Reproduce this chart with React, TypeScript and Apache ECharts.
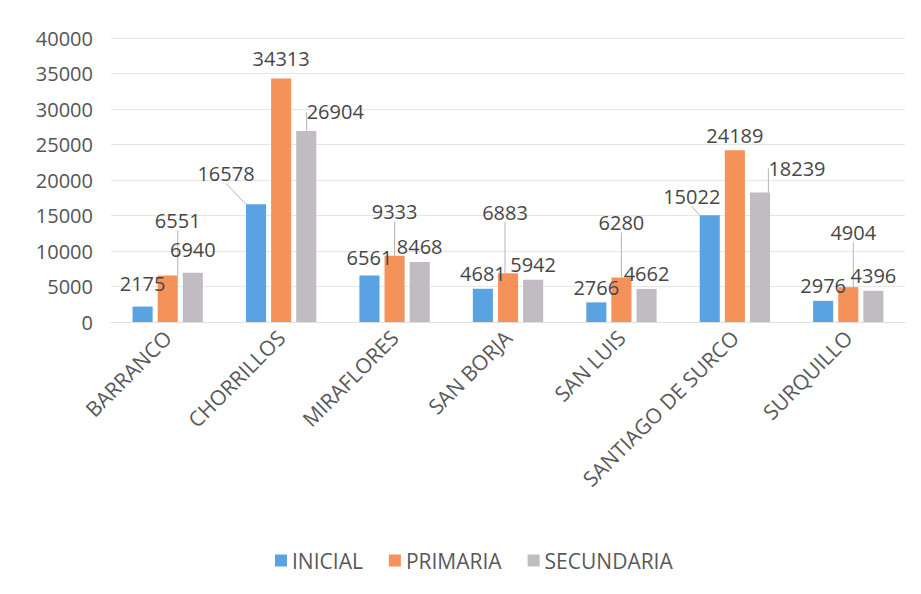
import React, { useEffect, useRef } from "react";
import * as echarts from "echarts";

const categories = [
  "BARRANCO",
  "CHORRILLOS",
  "MIRAFLORES",
  "SAN BORJA",
  "SAN LUIS",
  "SANTIAGO DE SURCO",
  "SURQUILLO",
];
const inicial = [2175, 16578, 6561, 4681, 2766, 15022, 2976];
const primaria = [6551, 34313, 9333, 6883, 6280, 24189, 4904];
const secundaria = [6940, 26904, 8468, 5942, 4662, 18239, 4396];
const yTicks = [0, 5000, 10000, 15000, 20000, 25000, 30000, 35000, 40000];

// label nudges [dx, dy] in pixels (layout only, not data)
const inicialNudge = [[0, -8], [-30, -16], [0, -3], [0, 0], [0, 0], [-18, -4], [0, 0]];
const primariaNudge = [[10, -40], [0, -5], [0, -29], [-3, -46], [0, -40], [0, 0], [5, -40]];
const secundariaNudge = [[0, -8], [29, -4], [0, 0], [0, 0], [0, 0], [37, -9], [0, 0]];

const FONT = "'Open Sans', 'Liberation Sans', sans-serif";

function makeSeries(name: string, values: number[], nudge: number[][], color: string) {
  return {
    name,
    type: "bar",
    barGap: "25%",
    barCategoryGap: "38%",
    itemStyle: { color },
    data: values.map((v, i) => ({
      value: v,
      labelLine: { show: Math.abs(nudge[i][0]) + Math.abs(nudge[i][1]) > 12 },
    })),
    label: {
      show: true,
      position: "top",
      distance: 5,
      color: "#474747",
      fontSize: 20,
      fontFamily: FONT,
    },
    labelLine: {
      show: false,
      lineStyle: { color: "#b5b5b5", width: 1 },
    },
    labelLayout: (params: any) => {
      const n = nudge[params.dataIndex] || [0, 0];
      return { dx: n[0], dy: n[1] };
    },
  };
}

export default function App() {
  const ref = useRef<HTMLDivElement>(null);
  useEffect(() => {
    if (!ref.current) return;
    const chart = echarts.init(ref.current, undefined, { renderer: "svg" });
    chart.setOption({
      animation: false,
      backgroundColor: "#ffffff",
      grid: { left: 111, right: 16, top: 38, bottom: 272, containLabel: false },
      legend: {
        left: 270,
        top: 545,
        itemWidth: 12,
        itemHeight: 12,
        itemGap: 26,
        icon: "rect",
        textStyle: { color: "#595959", fontSize: 21, fontFamily: FONT },
        data: ["INICIAL", "PRIMARIA", "SECUNDARIA"],
      },
      xAxis: {
        type: "category",
        data: categories,
        axisTick: { show: false },
        axisLine: { show: true, lineStyle: { color: "#e0e0e0" } },
        axisLabel: {
          rotate: 45,
          margin: 12,
          color: "#595959",
          fontSize: 21,
          fontFamily: FONT,
        },
      },
      yAxis: {
        type: "value",
        min: yTicks[0],
        max: yTicks[yTicks.length - 1],
        interval: yTicks[1] - yTicks[0],
        axisLine: { show: false },
        axisTick: { show: false },
        splitLine: { lineStyle: { color: "#e6e6e6" } },
        axisLabel: {
          margin: 18,
          color: "#555555",
          fontSize: 20,
          fontFamily: FONT,
          formatter: (v: number) => String(v),
        },
      },
      series: [
        makeSeries("INICIAL", inicial, inicialNudge, "#5aa3e2"),
        makeSeries("PRIMARIA", primaria, primariaNudge, "#f4925a"),
        makeSeries("SECUNDARIA", secundaria, secundariaNudge, "#c0bcc2"),
      ],
    });
    return () => chart.dispose();
  }, []);
  return (
    <div
      ref={ref}
      style={{ position: "fixed", left: 0, top: 0, width: 921, height: 594 }}
    />
  );
}
